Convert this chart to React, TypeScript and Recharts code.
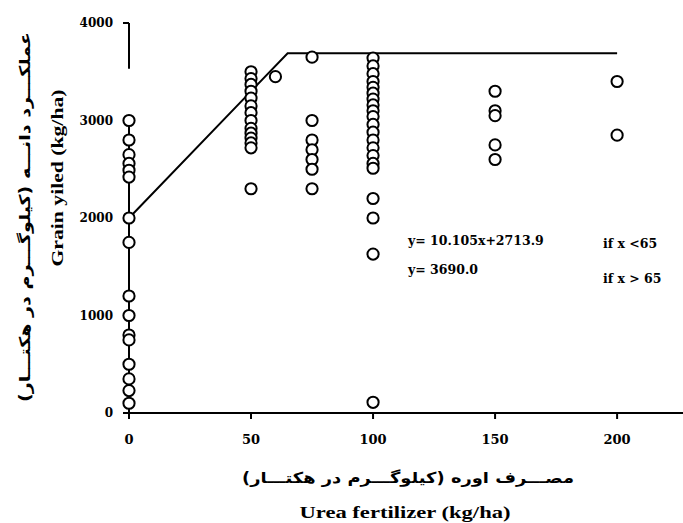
import React from "react";
import { ComposedChart, XAxis, YAxis, Scatter, Line } from "recharts";

// Fertilizer rates (kg/ha) and observed grain yields (kg/ha) at each rate
const yieldAt0 = [3000, 2800, 2650, 2560, 2490, 2420, 2000, 1750, 1200, 1000, 800, 750, 500, 350, 230, 100];
const yieldAt50 = [3500, 3430, 3370, 3300, 3230, 3150, 3080, 3000, 2920, 2870, 2820, 2770, 2720, 2300];
const yieldAt60 = [3450];
const yieldAt75 = [3650, 3000, 2800, 2700, 2600, 2500, 2300];
const yieldAt100 = [3640, 3560, 3480, 3400, 3340, 3280, 3220, 3160, 3100, 3040, 2960, 2880, 2800, 2720, 2640, 2560, 2510, 2200, 2000, 1630, 110];
const yieldAt150 = [3300, 3100, 3050, 2750, 2600];
const yieldAt200 = [3400, 2850];

const groups: [number, number[]][] = [
  [0, yieldAt0],
  [50, yieldAt50],
  [60, yieldAt60],
  [75, yieldAt75],
  [100, yieldAt100],
  [150, yieldAt150],
  [200, yieldAt200],
];

// Segmented (linear-plateau) fit line
const fitX = [0, 65, 200];
const fitY = [2000, 3690, 3690];

// Vertical axis line segments (broken axis)
const axisLow = [0, 3000];
const axisHigh = [3530, 4000];

const xTicks = [0, 50, 100, 150, 200];
const yTicks = [0, 1000, 2000, 3000, 4000];

const points = groups.flatMap(([x, ys]) => ys.map((y) => ({ x, y })));
const fitData = fitX.map((x, i) => ({ x, y: fitY[i] }));
const axisLowData = axisLow.map((y) => ({ x: 0, y }));
const axisHighData = axisHigh.map((y) => ({ x: 0, y }));

const serif = "'DejaVu Serif', serif";
const timesBold = "'Liberation Serif', 'Times New Roman', serif";
const persian = "'DejaVu Sans', sans-serif";

const Circle = (props: any) => {
  const { cx, cy } = props;
  if (cx == null || cy == null) return null;
  return <circle cx={cx} cy={cy} r={5.6} fill="#fff" stroke="#000" strokeWidth={2} />;
};

export default function App() {
  return (
    <div style={{ position: "absolute", left: 0, top: 0, width: 683, height: 523, background: "#fff" }}>
      <ComposedChart
        width={683}
        height={523}
        margin={{ top: 23, right: 0, bottom: 80, left: 69 }}
      >
        <XAxis
          type="number"
          dataKey="x"
          domain={[0, 227]}
          ticks={xTicks}
          height={30}
          axisLine={{ stroke: "#000", strokeWidth: 2 }}
          tickLine={{ stroke: "#000", strokeWidth: 2 }}
          tickSize={6}
          tickMargin={16}
          tick={{ fill: "#000", fontFamily: serif, fontWeight: "bold", fontSize: 13 }}
        />
        <YAxis
          type="number"
          dataKey="y"
          domain={[0, 4000]}
          ticks={yTicks}
          width={60}
          axisLine={false}
          tickLine={{ stroke: "#000", strokeWidth: 2 }}
          tickSize={6}
          tickMargin={10}
          tick={{ fill: "#000", fontFamily: serif, fontWeight: "bold", fontSize: 12 }}
        />
        <Line data={axisLowData} dataKey="y" stroke="#000" strokeWidth={2} dot={false} isAnimationActive={false} />
        <Line data={axisHighData} dataKey="y" stroke="#000" strokeWidth={2} dot={false} isAnimationActive={false} />
        <Scatter data={points} dataKey="y" shape={Circle} isAnimationActive={false} />
        <Line data={fitData} dataKey="y" stroke="#000" strokeWidth={2} dot={false} isAnimationActive={false} />
      </ComposedChart>
      <svg
        width={683}
        height={523}
        style={{ position: "absolute", left: 0, top: 0, pointerEvents: "none" }}
      >
        <g fill="#000" fontWeight="bold">
          <text x={408} y={245} fontFamily={serif} fontSize={12.5}>y= 10.105x+2713.9</text>
          <text x={408} y={274} fontFamily={serif} fontSize={12.5}>y= 3690.0</text>
          <text x={603} y={248} fontFamily={serif} fontSize={12.5}>if x &lt;65</text>
          <text x={603} y={283} fontFamily={serif} fontSize={12.5}>if x &gt; 65</text>

          <text
            x={57}
            y={178}
            transform="rotate(-90 57 178)"
            textAnchor="middle"
            dominantBaseline="central"
            fontFamily={timesBold}
            fontSize={17}
            textLength={177}
            lengthAdjust="spacingAndGlyphs"
          >
            Grain yiled (kg/ha)
          </text>
          <text
            x={25}
            y={217}
            transform="rotate(-90 25 217)"
            textAnchor="middle"
            dominantBaseline="central"
            direction="rtl"
            fontFamily={persian}
            fontSize={15}
            textLength={370}
            lengthAdjust="spacingAndGlyphs"
          >
            عملکـــرد دانـــه (کیلوگـــرم در هکتـــار)
          </text>
          <text
            x={408}
            y={478}
            textAnchor="middle"
            dominantBaseline="central"
            direction="rtl"
            fontFamily={persian}
            fontSize={15}
            textLength={332}
            lengthAdjust="spacingAndGlyphs"
          >
            مصـــرف اوره (کیلوگـــرم در هکتـــار)
          </text>
          <text
            x={405}
            y={512}
            textAnchor="middle"
            dominantBaseline="central"
            fontFamily={timesBold}
            fontSize={17}
            textLength={211}
            lengthAdjust="spacingAndGlyphs"
          >
            Urea fertilizer (kg/ha)
          </text>
        </g>
      </svg>
    </div>
  );
}
